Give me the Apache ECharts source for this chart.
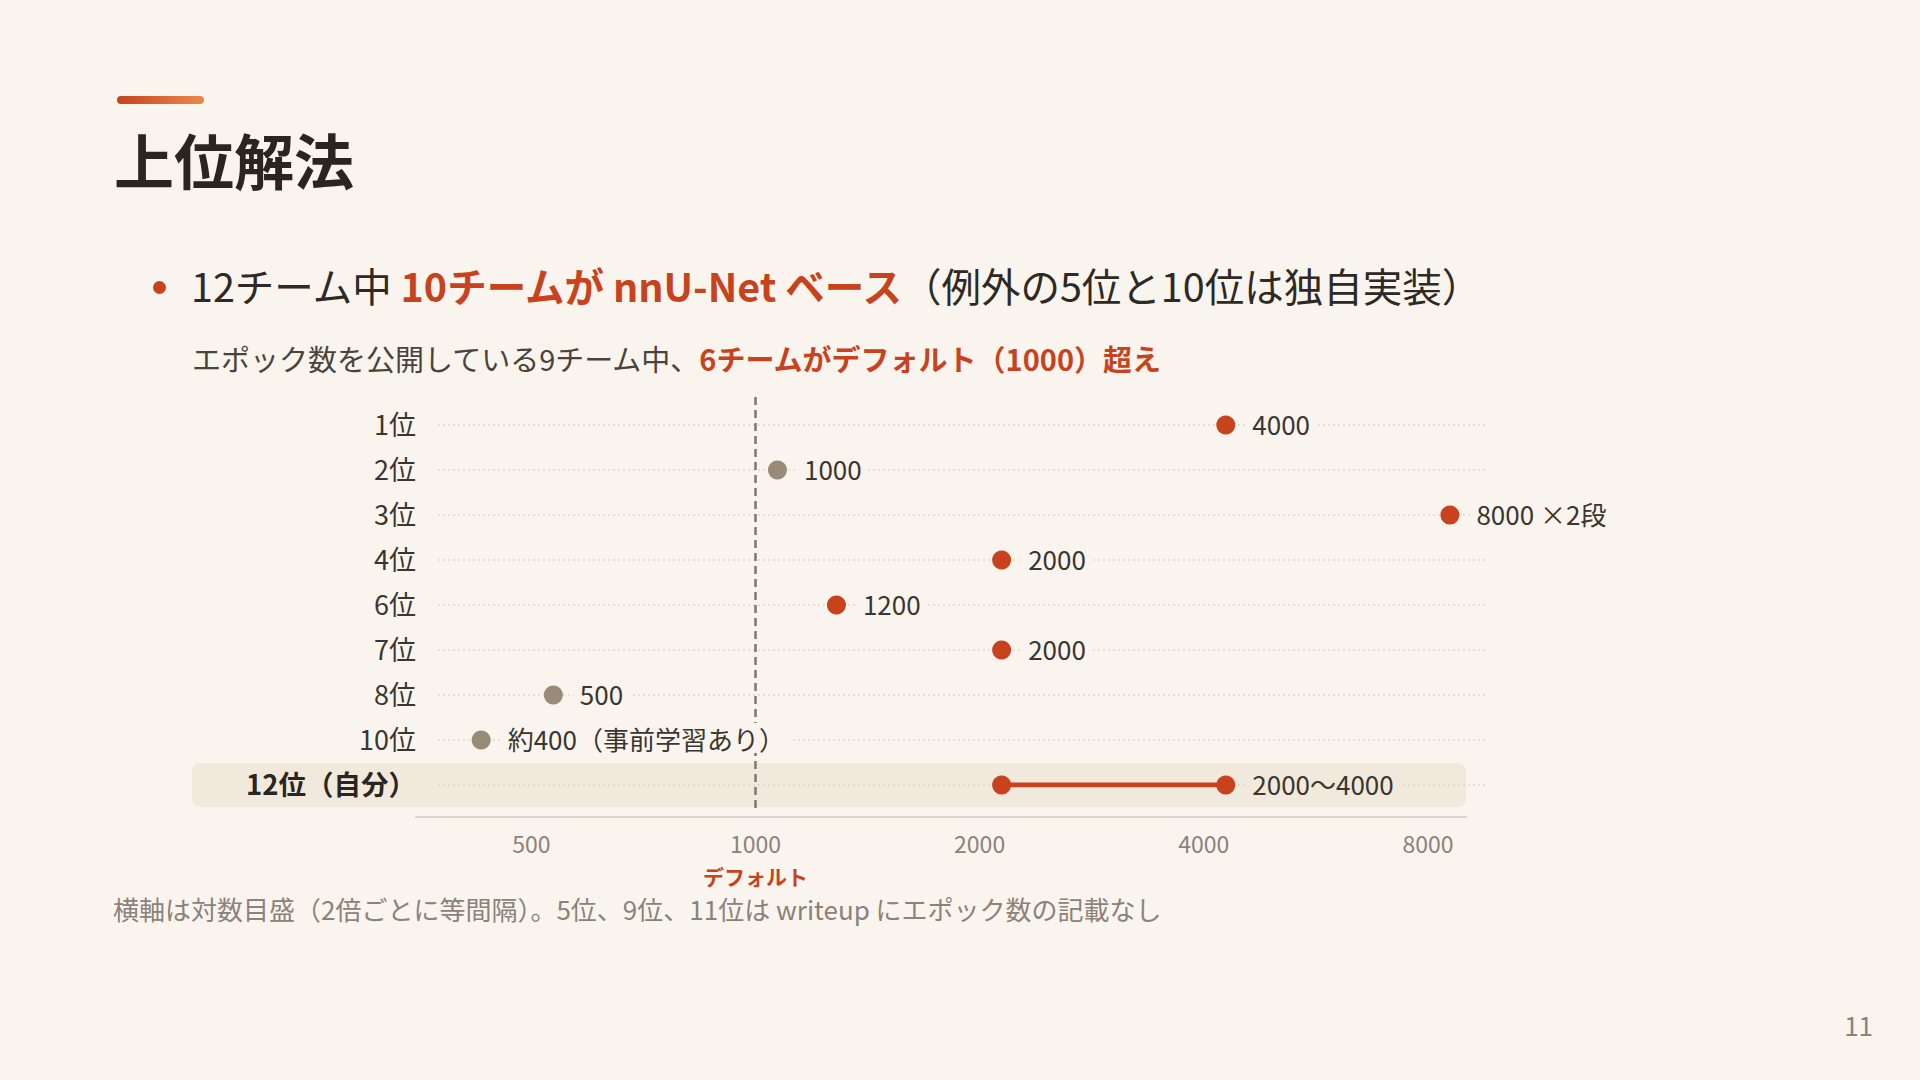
<!DOCTYPE html>
<html lang="ja">
<head>
<meta charset="utf-8">
<title>上位解法</title>
<script src="https://cdn.jsdelivr.net/npm/echarts@6/dist/echarts.min.js"></script>
<style>
  html, body { margin: 0; padding: 0; width: 1920px; height: 1080px; overflow: hidden;
    background: #f9f5ee; font-family: "Noto Sans CJK JP", "Noto Sans", sans-serif; }
  #chart { position: absolute; left: 0; top: 0; width: 1920px; height: 1080px; }
  .abs { position: absolute; white-space: nowrap; }
  .accent { left: 117px; top: 96px; width: 87px; height: 8px; border-radius: 4px;
    background: linear-gradient(90deg, #c8431d, #e88a4c); }
  .title { left: 114px; top: 129px; font-size: 60px; line-height: 60px; font-weight: 700; color: #2b2520; }
  .dot { left: 153px; top: 281px; width: 13px; height: 13px; border-radius: 50%; background: #c8431d; }
  .bullet { left: 191px; top: 265px; font-size: 39.5px; line-height: 40px; color: #2e2924; }
  .sub { left: 192px; top: 343px; font-size: 29px; line-height: 30px; color: #4a433c; }
  .em { color: #c8431d; font-weight: 700; }
  .note { left: 113px; top: 896px; font-size: 26px; line-height: 26px; color: #8b8279; }
  .page { right: 47px; top: 1012px; font-size: 26px; line-height: 26px; color: #8b8279; }
</style>
</head>
<body>
<div id="chart"></div>
<div class="abs accent"></div>
<div class="abs title">上位解法</div>
<div class="abs dot"></div>
<div class="abs bullet">12チーム中 <span class="em">10チームが nnU-Net ベース</span>（例外の5位と10位は独自実装）</div>
<div class="abs sub">エポック数を公開している9チーム中、<span class="em">6チームがデフォルト（1000）超え</span></div>
<div class="abs note">横軸は対数目盛（2倍ごとに等間隔）。5位、9位、11位は writeup にエポック数の記載なし</div>
<div class="abs page">11</div>
<script>
// データ
var categories = ['1位', '2位', '3位', '4位', '6位', '7位', '8位', '10位', '12位（自分）'];
var epochs = [4000, 1000, 8000, 2000, 1200, 2000, 500, 400];
var epochLabels = ['4000', '1000', '8000 ×2段', '2000', '1200', '2000', '500', '約400（事前学習あり）'];
var ownRange = [2000, 4000];
var ownLabel = '2000〜4000';
var tickValues = [500, 1000, 2000, 4000, 8000];
var DEFAULT_EPOCH = 1000;

var RED = '#c8431d';
var GREY = '#9a8b78';
var TEXT = '#3b3530';
var BG = '#f9f5ee';
var BAND = '#f1e9dc';
var FONT = '"Noto Sans CJK JP", "Noto Sans", sans-serif';
var own = categories[categories.length - 1];

// 目盛用グリッドの高さと、デフォルト線を軸線の手前で止める量
var AXIS_GRID_H = 424;
var DASH_GAP = 9;

var chart = echarts.init(document.getElementById('chart'), null, { renderer: 'svg' });

var option = {
    animation: false,
    textStyle: { fontFamily: FONT },
    grid: [
        // 点と横の点線
        { left: 438, width: 1050, top: 425, height: 360 },
        // 目盛とデフォルト線
        { left: 416, width: 1050, top: 393, height: AXIS_GRID_H }
    ],
    xAxis: [
        {
            gridIndex: 0, type: 'log', logBase: 2, min: 350, max: 9000,
            axisLine: { show: false }, axisTick: { show: false },
            axisLabel: { show: false }, splitLine: { show: false }
        },
        {
            gridIndex: 1, type: 'log', logBase: 2, min: 350, max: 9000,
            axisLine: { show: true, lineStyle: { color: '#ddd3c4', width: 2 } },
            axisTick: { show: false },
            splitLine: { show: false },
            axisLabel: {
                customValues: tickValues,
                color: '#8b8279', fontSize: 23, margin: 14,
                formatter: function (v) { return String(Math.round(v)); }
            }
        }
    ],
    yAxis: [
        {
            gridIndex: 0, type: 'category', data: categories, inverse: true, boundaryGap: false,
            axisLine: { show: false }, axisTick: { show: false },
            splitLine: { show: true, lineStyle: { type: [2, 3], color: '#e0d7c9', width: 1.5 } },
            axisLabel: {
                margin: 22,
                formatter: function (v) {
                    return v === own ? '{own|' + v + '}' : '{base|' + v + '}';
                },
                rich: {
                    base: { fontSize: 27, color: TEXT, fontFamily: FONT, padding: [0, 0, 4, 0] },
                    own: { fontSize: 27.5, color: '#2b2520', fontWeight: 'bold', fontFamily: FONT, padding: [0, 0, 4, 0] }
                }
            }
        },
        { gridIndex: 1, type: 'value', min: 0, max: 1, show: false }
    ],
    series: [
        {
            type: 'line', xAxisIndex: 1, yAxisIndex: 1, data: [], z: 1,
            markLine: {
                silent: true, symbol: ['none', 'none'],
                label: { show: false },
                lineStyle: { type: [8, 5], color: '#7f766d', width: 2.5 },
                data: [[
                    { coord: [DEFAULT_EPOCH, DASH_GAP / AXIS_GRID_H] },
                    { coord: [DEFAULT_EPOCH, 1] }
                ]]
            }
        },
        {
            type: 'line', xAxisIndex: 0, yAxisIndex: 0,
            data: [
                { value: [ownRange[0], own] },
                { value: [ownRange[1], own], label: { show: true } }
            ],
            symbol: 'circle', symbolSize: 19,
            itemStyle: { color: RED, opacity: 1 },
            lineStyle: { color: RED, width: 5 },
            label: {
                show: false, position: 'right', distance: 11, offset: [0, -2],
                fontSize: 26, color: TEXT, backgroundColor: BAND, padding: [2, 6],
                formatter: function () { return ownLabel; }
            },
            z: 4
        },
        {
            type: 'scatter', xAxisIndex: 0, yAxisIndex: 0,
            symbolSize: 19,
            data: epochs.map(function (v, i) {
                return { value: [v, categories[i]], itemStyle: { color: v > DEFAULT_EPOCH ? RED : GREY, opacity: 1 } };
            }),
            label: {
                show: true, position: 'right', distance: 11, offset: [0, -2],
                fontSize: 26, color: TEXT, backgroundColor: BG, padding: [2, 6],
                formatter: function (p) { return epochLabels[p.dataIndex]; }
            },
            z: 5
        }
    ]
};
chart.setOption(option);

// 自分の行の帯と「デフォルト」の注記
var ownY = chart.convertToPixel({ yAxisIndex: 0 }, own);
var defX = chart.convertToPixel({ xAxisIndex: 1 }, DEFAULT_EPOCH);
chart.setOption({
    graphic: [
        {
            type: 'rect', z: -10, silent: true,
            shape: { x: 192, y: ownY - 22, width: 1274, height: 44, r: 8 },
            style: { fill: BAND }
        },
        {
            type: 'text', silent: true, x: defX, y: 876,
            style: {
                text: 'デフォルト', fill: RED, fontSize: 21, fontWeight: 'bold',
                fontFamily: FONT, align: 'center', verticalAlign: 'middle'
            }
        }
    ]
});
</script>
</body>
</html>
